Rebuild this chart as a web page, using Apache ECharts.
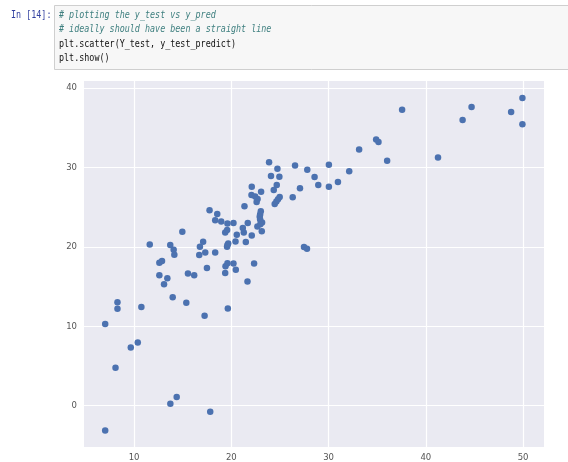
<!DOCTYPE html>
<html>
<head>
<meta charset="utf-8">
<script src="https://cdn.jsdelivr.net/npm/echarts@6/dist/echarts.min.js"></script>
<style>
html,body{margin:0;padding:0;background:#fff;}
#chart{width:568px;height:462px;}
</style>
</head>
<body>
<div id="chart"></div>
<script>
// Y_test (x) values
var yTest = [7.03,7.03,8.09,8.29,8.29,9.66,10.38,10.75,11.61,12.6,12.87,12.6,13.42,13.08,13.97,13.73,14.38,13.72,14.07,14.14,14.96,15.54,15.37,16.18,16.7,16.77,17.1,17.32,17.25,17.49,17.83,17.76,18.34,18.55,18.96,18.34,19.37,19.57,19.6,20.22,19.56,19.6,19.68,19.37,19.4,19.6,19.64,20.22,20.46,20.43,20.56,21.18,21.28,21.49,21.35,21.69,21.66,22.34,22.1,22.1,22.07,22.45,22.7,22.6,23.06,22.68,23.03,22.96,22.92,22.96,23.16,22.98,23.13,23.88,24.08,24.74,24.67,24.94,24.36,24.46,24.63,24.8,24.97,26.31,26.55,27.06,27.81,27.47,27.78,28.56,28.94,30.03,30.03,30.96,32.12,33.14,34.89,35.13,36.02,37.56,41.25,43.78,44.7,48.77,49.93,49.93];
// y_test_predict (y) values
var yTestPredict = [-3.13,10.28,4.77,13.04,12.21,7.32,7.95,12.42,20.3,18.02,18.23,16.43,16.05,15.3,13.67,0.25,1.09,20.24,19.65,19.02,21.9,16.64,12.96,16.43,18.98,20.02,20.65,19.31,11.33,17.35,-0.75,24.63,23.37,24.16,23.2,19.31,21.82,22.12,22.95,23.0,20.03,20.24,20.44,16.73,17.56,17.94,12.25,17.9,17.14,20.69,21.53,22.37,21.82,20.61,25.13,23.0,15.64,17.9,27.59,21.44,26.55,26.35,26.05,25.65,26.96,22.57,24.5,24.1,23.79,23.45,23.07,22.87,21.99,30.68,28.93,29.85,27.8,28.84,27.17,25.42,25.72,26.0,26.29,26.26,30.27,27.38,29.72,19.99,19.78,28.8,27.8,30.35,27.59,28.18,29.52,32.27,33.53,33.23,30.85,37.29,31.27,35.99,37.62,36.99,38.75,35.45];
var promptText = "In [14]:";
var codeLines = [
  {text: "# plotting the y_test vs y_pred", comment: true},
  {text: "# ideally should have been a straight line", comment: true},
  {text: "plt.scatter(Y_test, y_test_predict)", comment: false},
  {text: "plt.show()", comment: false}
];

var points = yTest.map(function(v, i){ return [v, yTestPredict[i]]; });

var graphics = [
  {type:'rect', shape:{x:54.5, y:5.5, width:520, height:64}, style:{fill:'#f7f7f7', stroke:'#cfcfcf', lineWidth:1}, z:0},
  {type:'text', x:11, y:15, scaleX:0.84, style:{text:promptText, font:'10px "DejaVu Sans Mono"', fill:'#303F9F', verticalAlign:'middle'}, z:1}
];
codeLines.forEach(function(l, i){
  graphics.push({type:'text', x:59, y:15 + i*14.5, scaleX:0.84,
    style:{text:l.text, font:(l.comment?'italic ':'') + '10px "DejaVu Sans Mono"', fill:l.comment?'#408080':'#111', verticalAlign:'middle'}, z:1});
});

var chart = echarts.init(document.getElementById('chart'), null, {renderer:'canvas'});
chart.setOption({
  backgroundColor:'#ffffff',
  animation:false,
  graphic: graphics,
  grid:{left:84, top:81, right:24, bottom:15, show:true, backgroundColor:'#EAEAF2', borderWidth:0},
  xAxis:{
    type:'value', min:4.85, max:52.15, splitNumber:5,
    axisLine:{show:false}, axisTick:{show:false},
    axisLabel:{show:true, showMinLabel:false, showMaxLabel:false, color:'#555', fontSize:8.5, margin:6, fontFamily:'DejaVu Sans'},
    splitLine:{show:true, showMinLine:false, showMaxLine:false, lineStyle:{color:'#ffffff', width:1.2}}
  },
  yAxis:{
    type:'value', min:-5.2, max:40.9, splitNumber:5,
    axisLine:{show:false}, axisTick:{show:false},
    axisLabel:{show:true, showMinLabel:false, showMaxLabel:false, color:'#555', fontSize:8.5, margin:7, fontFamily:'DejaVu Sans'},
    splitLine:{show:true, showMinLine:false, showMaxLine:false, lineStyle:{color:'#ffffff', width:1.2}}
  },
  series:[{
    type:'scatter', data: points, symbol:'circle', symbolSize:6.5,
    itemStyle:{color:'#4C72B0', opacity:1}
  }]
});
</script>
</body>
</html>
